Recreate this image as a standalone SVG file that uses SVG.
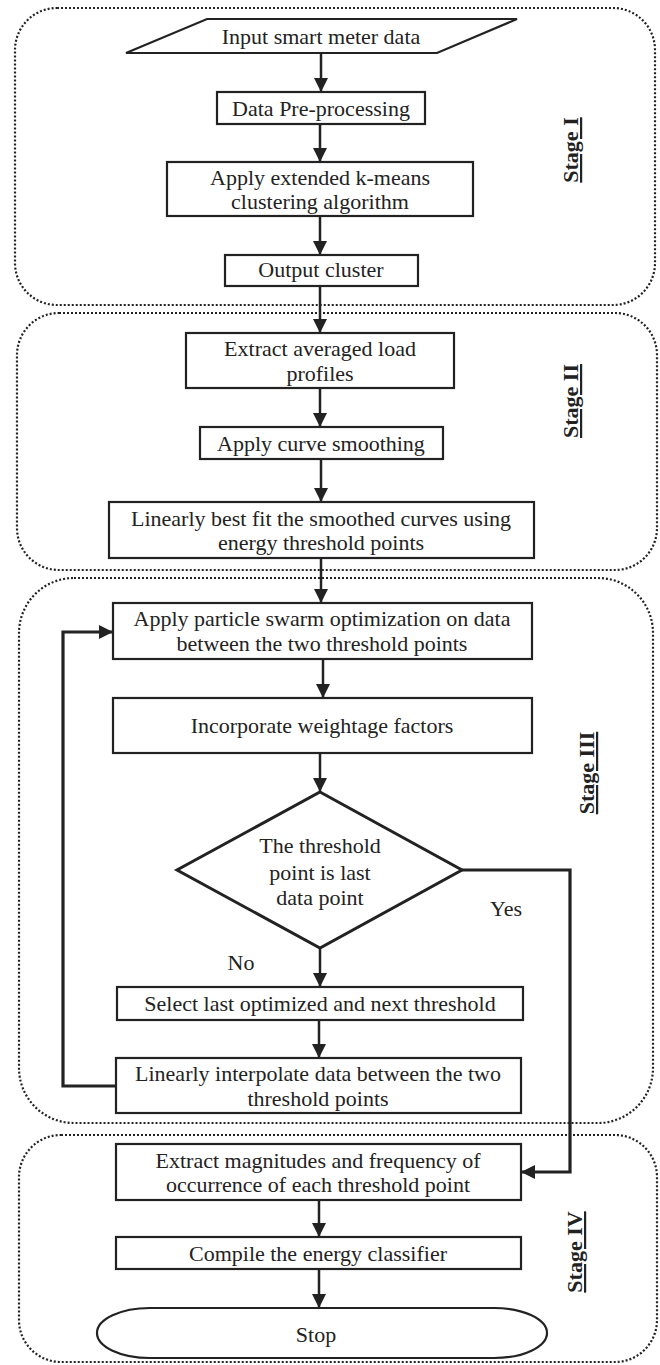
<svg xmlns="http://www.w3.org/2000/svg" width="660" height="1365" viewBox="0 0 660 1365">
<defs>
<style>
.stage{fill:none;stroke:#222;stroke-width:2.2;stroke-dasharray:2 2}
.box{fill:#fff;stroke:#222;stroke-width:2.2}
.thick{fill:#fff;stroke:#222;stroke-width:3}
.t{font-family:"Liberation Serif","Times New Roman",serif;font-size:22px;fill:#222;text-anchor:middle;dominant-baseline:central}
.lbl{font-family:"Liberation Serif","Times New Roman",serif;font-size:22px;font-weight:bold;fill:#222;text-anchor:middle;text-decoration:underline}
.c{fill:none;stroke:#222;stroke-width:2.5}
.loop{fill:none;stroke:#222;stroke-width:3.2}
</style>
<marker id="ah" markerUnits="userSpaceOnUse" markerWidth="14" markerHeight="14" viewBox="0 0 14 14" refX="14" refY="7" orient="auto">
<path d="M0,0 L14,7 L0,14 Z" fill="#222"/>
</marker>
</defs>

<g id="stages">
<rect id="stage1" class="stage" x="15" y="8" width="640" height="297" rx="42"/>
<rect id="stage2" class="stage" x="17" y="313" width="640" height="257" rx="42"/>
<rect id="stage3" class="stage" x="19" y="578" width="634" height="545" rx="55"/>
<rect id="stage4" class="stage" x="19" y="1135" width="638" height="227" rx="42"/>
<text class="lbl" transform="translate(578,150) rotate(-90)">Stage I</text>
<text class="lbl" transform="translate(578,401) rotate(-90)">Stage II</text>
<text class="lbl" transform="translate(594,773) rotate(-90)">Stage III</text>
<text class="lbl" transform="translate(582,1252) rotate(-90)">Stage IV</text>
</g>

<g id="connectors">
<line class="c" x1="321" y1="53" x2="321" y2="92" marker-end="url(#ah)"/>
<line class="c" x1="320" y1="124" x2="320" y2="162" marker-end="url(#ah)"/>
<line class="c" x1="320" y1="216" x2="320" y2="255" marker-end="url(#ah)"/>
<line class="c" x1="320" y1="286" x2="320" y2="333" marker-end="url(#ah)"/>
<line class="c" x1="320" y1="388" x2="320" y2="427" marker-end="url(#ah)"/>
<line class="c" x1="321" y1="459" x2="321" y2="502" marker-end="url(#ah)"/>
<line class="c" x1="321" y1="558" x2="321" y2="603" marker-end="url(#ah)"/>
<line class="c" x1="323" y1="659" x2="323" y2="698" marker-end="url(#ah)"/>
<line class="c" x1="320" y1="753" x2="320" y2="792" marker-end="url(#ah)"/>
<line class="c" x1="320" y1="948" x2="320" y2="987" marker-end="url(#ah)"/>
<line class="c" x1="319" y1="1020" x2="319" y2="1058" marker-end="url(#ah)"/>
<line class="c" x1="319" y1="1200" x2="319" y2="1237" marker-end="url(#ah)"/>
<line class="c" x1="319" y1="1269" x2="319" y2="1308" marker-end="url(#ah)"/>
<polyline class="loop" points="116,1086 63,1086 63,632 113,632" marker-end="url(#ah)"/>
<polyline class="loop" points="462,870 570,870 570,1172 521,1172" marker-end="url(#ah)"/>
<text class="t" x="506" y="908">Yes</text>
<text class="t" x="241" y="962">No</text>
</g>

<g id="n-input">
<polygon class="box" points="207,19 517,19 437,53 126,53"/>
<text class="t" x="321" y="36">Input smart meter data</text>
</g>
<g id="n-preproc">
<rect class="box" x="217" y="92" width="208" height="32"/>
<text class="t" x="321" y="108">Data Pre-processing</text>
</g>
<g id="n-kmeans">
<rect class="box" x="167" y="162" width="306" height="54"/>
<text class="t" x="320" y="177">Apply extended k-means</text>
<text class="t" x="320" y="201">clustering algorithm</text>
</g>
<g id="n-output">
<rect class="box" x="225" y="255" width="193" height="31"/>
<text class="t" x="321" y="269">Output cluster</text>
</g>
<g id="n-extract">
<rect class="box" x="186" y="333" width="268" height="55"/>
<text class="t" x="320" y="348">Extract averaged load</text>
<text class="t" x="320" y="373">profiles</text>
</g>
<g id="n-smooth">
<rect class="box" x="200" y="427" width="243" height="32"/>
<text class="t" x="321" y="443">Apply curve smoothing</text>
</g>
<g id="n-bestfit">
<rect class="box" x="109" y="502" width="425" height="56"/>
<text class="t" x="321" y="518">Linearly best fit the smoothed curves using</text>
<text class="t" x="321" y="542">energy threshold points</text>
</g>
<g id="n-pso">
<rect class="box" x="113" y="603" width="419" height="56"/>
<text class="t" x="322" y="618">Apply particle swarm optimization on data</text>
<text class="t" x="322" y="643">between the two threshold points</text>
</g>
<g id="n-weight">
<rect class="box" x="113" y="698" width="419" height="55"/>
<text class="t" x="322" y="725">Incorporate weightage factors</text>
</g>
<g id="n-decision">
<polygon class="thick" points="320,792 462,870 320,948 177,870"/>
<text class="t" x="320" y="845">The threshold</text>
<text class="t" x="320" y="872">point is last</text>
<text class="t" x="320" y="897">data point</text>
</g>
<g id="n-select">
<rect class="box" x="117" y="987" width="406" height="33"/>
<text class="t" x="320" y="1003">Select last optimized and next threshold</text>
</g>
<g id="n-interp">
<rect class="box" x="116" y="1058" width="405" height="55"/>
<text class="t" x="318" y="1073">Linearly interpolate data between the two</text>
<text class="t" x="318" y="1098">threshold points</text>
</g>
<g id="n-magnitudes">
<rect class="box" x="116" y="1144" width="405" height="56"/>
<text class="t" x="318" y="1160">Extract magnitudes and frequency of</text>
<text class="t" x="318" y="1184">occurrence of each threshold point</text>
</g>
<g id="n-compile">
<rect class="box" x="116" y="1237" width="405" height="32"/>
<text class="t" x="318" y="1253">Compile the energy classifier</text>
</g>
<g id="n-stop">
<path class="box" d="M150,1308 H494 A53,25 0 0 1 494,1358 H150 A53,25 0 0 1 150,1308 Z"/>
<text class="t" x="316" y="1334">Stop</text>
</g>
</svg>
